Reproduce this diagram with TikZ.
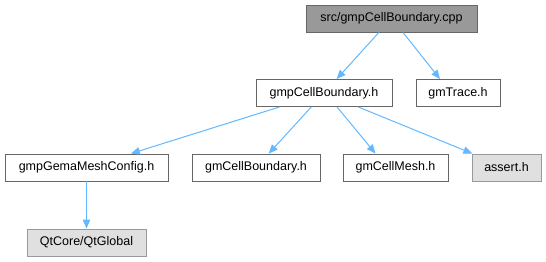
\documentclass[tikz,border=0pt]{standalone}
\usepackage{fontspec}
\setmainfont{Liberation Sans}
\usetikzlibrary{arrows.meta}
\begin{document}
\begin{tikzpicture}[x=1bp,y=-1bp,
  box/.style={draw=black!60,fill=white,line width=0.9bp,inner sep=0pt,
    font=\fontsize{12.5bp}{15bp}\selectfont,anchor=center,minimum height=27bp},
  rootbox/.style={box,fill=black!40},
  sysbox/.style={box,draw=black!40,fill=black!12},
  edge/.style={draw={rgb,255:red,99;green,184;blue,255},line width=1bp,
    -{Triangle[length=9bp,width=7.5bp]}}]
\useasboundingbox (0,0) rectangle (546,261);
\node[rootbox,minimum width=171bp] (root) at (391.5,18.5) {src/gmpCellBoundary.cpp};
\node[box,minimum width=136bp] (cb) at (324,93) {gmpCellBoundary.h};
\node[box,minimum width=84bp] (tr) at (458,93) {gmTrace.h};
\node[box,minimum width=163bp] (gm) at (86.5,167.5) {gmpGemaMeshConfig.h};
\node[box,minimum width=128bp] (gcb) at (256,167.5) {gmCellBoundary.h};
\node[box,minimum width=105bp] (mesh) at (395.5,167.5) {gmCellMesh.h};
\node[sysbox,minimum width=69bp] (as) at (506.5,167.5) {assert.h};
\node[sysbox,minimum width=119bp] (qt) at (86.5,242.5) {QtCore/QtGlobal};
\draw[edge] (root) -- (cb);
\draw[edge] ([xshift=11.5bp]root.south) -- ([xshift=-18bp]tr.north);
\draw[edge] (cb) -- (gm);
\draw[edge] (cb) -- (gcb);
\draw[edge] ([xshift=13bp]cb.south) -- ([xshift=-20bp]mesh.north);
\draw[edge] (cb) -- (as);
\draw[edge] (gm) -- (qt);
\end{tikzpicture}
\end{document}
